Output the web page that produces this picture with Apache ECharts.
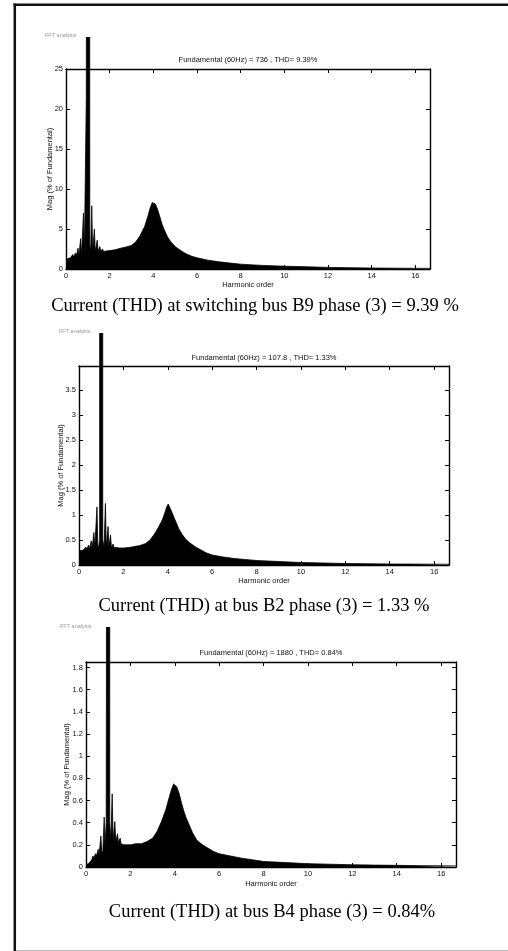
<!DOCTYPE html>
<html><head><meta charset="utf-8">
<script src="https://cdn.jsdelivr.net/npm/echarts@6/dist/echarts.min.js"></script>
<style>
html,body{margin:0;padding:0;background:#fff;width:508px;height:951px;overflow:hidden;}
.c{position:absolute;left:0;width:508px;}
</style></head><body>
<div id="bg" class="c" style="top:0;height:951px"></div>
<div id="p1" class="c" style="top:37px;height:256px"></div>
<div id="p2" class="c" style="top:333px;height:262px"></div>
<div id="p3" class="c" style="top:627px;height:270px"></div>
<script>
// ---------- data (harmonic order, magnitude in % of fundamental) ----------
const orders1 = [0,0.1,0.2,0.27,0.31,0.35,0.39,0.43,0.47,0.51,0.55,0.59,0.63,0.67,0.71,0.76,0.8,0.84,0.89,0.93,0.945,0.95,1.08,1.09,1.13,1.18,1.22,1.26,1.3,1.34,1.39,1.43,1.47,1.51,1.55,1.59,1.63,1.67,1.72,1.8,2,2.25,2.5,2.75,3,3.2,3.4,3.6,3.75,3.85,3.95,4.02,4.1,4.2,4.3,4.4,4.5,4.65,4.8,5,5.25,5.5,5.75,6,6.5,7,7.5,8,9,10,11,12,13,14,15,16.67];
const mag1 = [1.2,1.3,1.4,1.5,1.8,1.5,1.55,2.0,1.6,1.6,2.6,1.6,1.7,3.8,1.7,1.8,7.0,1.8,2.0,21.5,21.5,100,100,3,2.2,7.9,2.2,2.2,5.0,2.2,2.2,3.6,2.2,2.2,2.8,2.2,2.2,2.5,2.2,2.3,2.3,2.4,2.6,2.75,2.95,3.4,4.2,5.3,6.6,7.6,8.3,8.5,8.1,7.4,6.5,5.6,4.9,4.0,3.4,2.8,2.3,1.9,1.6,1.4,1.1,0.9,0.75,0.6,0.45,0.35,0.28,0.2,0.16,0.12,0.1,0.08];

const orders2 = [0,0.1,0.2,0.27,0.31,0.35,0.39,0.43,0.47,0.51,0.55,0.59,0.63,0.67,0.71,0.76,0.81,0.85,0.9,0.93,0.94,1.06,1.07,1.13,1.19,1.23,1.27,1.31,1.35,1.38,1.42,1.46,1.5,1.54,1.58,1.62,1.66,1.7,1.8,2,2.25,2.5,2.75,3,3.2,3.4,3.6,3.75,3.85,3.95,4.02,4.1,4.2,4.3,4.4,4.5,4.65,4.8,5,5.25,5.5,5.75,6,6.5,7,7.5,8,9,10,11,12,13,14,15,16.67];
const mag2 = [0.29,0.29,0.3,0.31,0.36,0.31,0.32,0.4,0.32,0.33,0.48,0.33,0.34,0.65,0.34,0.35,1.16,0.35,0.4,0.5,100,100,0.5,0.36,1.23,0.36,0.36,0.77,0.36,0.36,0.6,0.35,0.35,0.42,0.35,0.35,0.38,0.35,0.34,0.34,0.35,0.37,0.39,0.43,0.5,0.62,0.77,0.9,1.02,1.16,1.22,1.14,1.04,0.93,0.83,0.72,0.61,0.52,0.44,0.36,0.3,0.24,0.2,0.16,0.13,0.11,0.09,0.07,0.05,0.04,0.03,0.025,0.02,0.018,0.015];

const orders3 = [0,0.1,0.2,0.27,0.31,0.35,0.39,0.43,0.47,0.51,0.55,0.59,0.63,0.67,0.71,0.76,0.82,0.86,0.91,0.92,0.935,0.94,1.06,1.07,1.12,1.18,1.22,1.26,1.3,1.34,1.38,1.42,1.46,1.5,1.54,1.58,1.62,1.66,1.7,1.8,2,2.25,2.5,2.75,3,3.2,3.4,3.6,3.75,3.85,3.95,4.02,4.1,4.2,4.3,4.4,4.5,4.65,4.8,5,5.25,5.5,5.75,6,6.5,7,7.5,8,9,10,11,12,13,14,15,16.67];
const mag3 = [0.02,0.03,0.05,0.07,0.1,0.08,0.09,0.12,0.1,0.1,0.16,0.11,0.12,0.28,0.13,0.15,0.45,0.2,0.4,1.71,1.71,100,100,0.4,0.25,0.66,0.24,0.24,0.41,0.23,0.23,0.3,0.22,0.22,0.26,0.21,0.21,0.22,0.2,0.2,0.2,0.21,0.21,0.23,0.26,0.32,0.41,0.52,0.63,0.7,0.75,0.76,0.72,0.66,0.58,0.51,0.45,0.38,0.31,0.24,0.2,0.17,0.14,0.12,0.1,0.08,0.065,0.05,0.04,0.03,0.025,0.02,0.017,0.015,0.012,0.01];

const plotTitles = ['Fundamental (60Hz) = 736 , THD= 9.39%','Fundamental (60Hz) = 107.8 , THD= 1.33%','Fundamental (60Hz) = 1880 , THD= 0.84%'];
const captions = ['Current (THD) at switching bus B9 phase (3) = 9.39 %','Current (THD) at bus B2 phase (3) = 1.33 %','Current (THD) at bus B4 phase (3) = 0.84%'];
const windowLabel = 'FFT analysis';
const xName = 'Harmonic order';
const yName = 'Mag (% of Fundamental)';
const xMaxOrder = 16.67, xStep = 2;
const yMaxes = [25, 3.98, 1.85];
const ySteps = [5, 0.5, 0.2];

// ---------- layout ----------
const SANS = '"Liberation Sans", Arial, Helvetica, sans-serif';
const SERIF = '"Liberation Serif", "Times New Roman", serif';
const layouts = [
  {left:66, top:32, width:364, height:200, tx:248, ty:23, xGap:12, yGap:12, showMax:true},
  {left:79, top:33, width:370, height:199, tx:264, ty:25, xGap:12, yGap:14, showMax:false},
  {left:86, top:35, width:370, height:205, tx:271, ty:26, xGap:13, yGap:15, showMax:false}
];

function axisBase(){
  return {
    type:'value',
    splitLine:{show:false},
    axisLine:{show:true,onZero:false,lineStyle:{color:'#000',width:1.4}},
    axisTick:{show:true,inside:true,length:4,lineStyle:{color:'#000',width:1}},
    minorTick:{show:false},
    nameMoveOverlap:false
  };
}
function labelStyle(showMax){
  return {show:true, margin:3, fontSize:7.5, color:'#111', fontFamily:SANS, showMaxLabel:showMax, hideOverlap:false};
}
const nameStyle = {fontSize:7.5, color:'#111', fontFamily:SANS};

function makeOption(i, orders, mags){
  const L = layouts[i];
  const data = orders.map((x,k)=>[x, mags[k]]);
  return {
    animation:false,
    grid:{left:L.left, top:L.top, width:L.width, height:L.height, containLabel:false, outerBoundsMode:'none', show:false},
    xAxis:[
      Object.assign(axisBase(), {min:0, max:xMaxOrder, interval:xStep, position:'bottom',
        name:xName, nameLocation:'middle', nameGap:L.xGap, nameTextStyle:nameStyle, axisLabel:labelStyle(false)}),
      Object.assign(axisBase(), {min:0, max:xMaxOrder, interval:xStep, position:'top', axisLabel:{show:false}})
    ],
    yAxis:[
      Object.assign(axisBase(), {min:0, max:yMaxes[i], interval:ySteps[i], position:'left',
        name:yName, nameLocation:'middle', nameGap:L.yGap, nameTextStyle:nameStyle, axisLabel:labelStyle(L.showMax)}),
      Object.assign(axisBase(), {min:0, max:yMaxes[i], interval:ySteps[i], position:'right', axisLabel:{show:false}})
    ],
    graphic:[{type:'text', x:L.tx, y:L.ty, silent:true,
      style:{text:plotTitles[i], font:'7.5px '+SANS, fill:'#111', textAlign:'center', textVerticalAlign:'middle', align:'center', verticalAlign:'middle'}}],
    series:[{type:'line', data:data, xAxisIndex:0, yAxisIndex:0, symbol:'none', showSymbol:false, clip:false, silent:true,
      lineStyle:{color:'#000', width:0.8}, areaStyle:{color:'#000', opacity:1}}]
  };
}

const seriesSets = [[orders1,mag1],[orders2,mag2],[orders3,mag3]];
['p1','p2','p3'].forEach((id,i)=>{
  const ch = echarts.init(document.getElementById(id), null, {renderer:'canvas'});
  ch.setOption(makeOption(i, seriesSets[i][0], seriesSets[i][1]));
});

// background: frame, captions, window labels
const capPos = [[255,306.5],[264,606],[272,912.5]];
const winPos = [[45,35],[59,331],[60,626]];
const bgEls = [
  {type:'line', shape:{x1:13.5,y1:4.7,x2:508,y2:4.7}, style:{stroke:'#111', lineWidth:2.5}},
  {type:'line', shape:{x1:14.8,y1:3.5,x2:14.8,y2:951}, style:{stroke:'#111', lineWidth:2.5}},
  {type:'line', shape:{x1:16,y1:950.5,x2:508,y2:950.5}, style:{stroke:'#bbb', lineWidth:1}}
];
captions.forEach((t,i)=>bgEls.push({type:'text', x:capPos[i][0], y:capPos[i][1],
  style:{text:t, font:'18.5px '+SERIF, fill:'#000', textAlign:'center', textVerticalAlign:'middle', align:'center', verticalAlign:'middle'}}));
winPos.forEach(p=>bgEls.push({type:'text', x:p[0], y:p[1],
  style:{text:windowLabel, font:'5.5px '+SANS, fill:'#999', textAlign:'left', textVerticalAlign:'middle', align:'left', verticalAlign:'middle'}}));
const bg = echarts.init(document.getElementById('bg'), null, {renderer:'canvas'});
bg.setOption({animation:false, graphic:bgEls});
</script>
</body></html>
